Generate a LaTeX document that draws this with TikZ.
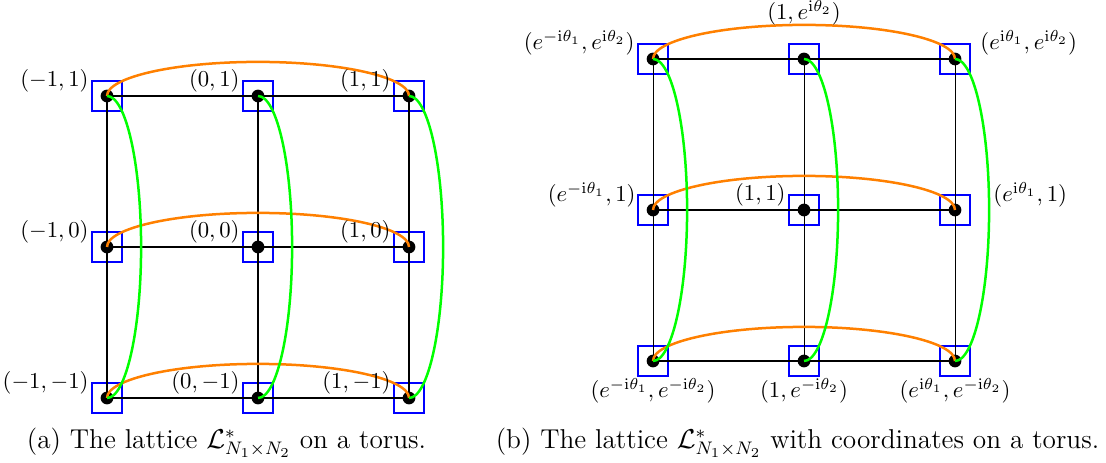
\documentclass[tikz,border=0pt]{standalone}
\usepackage{amsmath}
\begin{document}
\begin{tikzpicture}[x=0.44pt,y=0.44pt,
  latpt/.style={draw=blue,line width=0.5pt,minimum size=13.2pt,inner sep=0pt,shape=rectangle},
  latdot/.style={fill=black,circle,inner sep=0pt,minimum size=5.6pt},
  gridline/.style={line width=0.45pt,black},
  orangearc/.style={orange,line width=1.1pt},
  greenarc/.style={green,line width=1.1pt},
  labtext/.style={inner sep=0pt,font=\normalsize},
  captext/.style={inner sep=0pt,font=\large}]
\useasboundingbox (0,0) rectangle (1106,462);
% left panel nodes
\foreach \i/\x in {1/107,2/258,3/409}
  \foreach \j/\y in {1/366,2/215,3/64}
    \node[latpt] (a\i\j) at (\x,\y) {};
% right panel nodes
\foreach \i/\x in {1/653,2/804,3/955}
  \foreach \j/\y in {1/403,2/252,3/101}
    \node[latpt] (b\i\j) at (\x,\y) {};
% grid lines
\foreach \p in {a,b}{
  \foreach \j in {1,2,3}{
    \draw[gridline] (\p1\j.center) -- (\p2\j.center) -- (\p3\j.center);
    \draw[gridline] (\p\j1.center) -- (\p\j2.center) -- (\p\j3.center);
  }
}
% dots
\foreach \p in {a,b}
  \foreach \i in {1,2,3}
    \foreach \j in {1,2,3}
      \node[latdot] (d\p\i\j) at (\p\i\j.center) {};
% orange arcs
\foreach \p in {a,b}
  \foreach \j in {1,2,3}
    \draw[orangearc] (\p1\j.center) arc[start angle=180,end angle=0,x radius=66.44pt,y radius=15pt];
% green arcs
\foreach \p in {a,b}
  \foreach \i in {1,2,3}
    \draw[greenarc] (\p\i1.center) arc[start angle=90,end angle=-90,x radius=15pt,y radius=66.44pt];
% left labels
\node[labtext,anchor=base east] (la11) at ([shift={(-18,9)}]a11.center) {$(-1,1)$};
\node[labtext,anchor=base east] (la21) at ([shift={(-18,9)}]a21.center) {$(0,1)$};
\node[labtext,anchor=base east] (la31) at ([shift={(-18,9)}]a31.center) {$(1,1)$};
\node[labtext,anchor=base east] (la12) at ([shift={(-18,9)}]a12.center) {$(-1,0)$};
\node[labtext,anchor=base east] (la22) at ([shift={(-18,9)}]a22.center) {$(0,0)$};
\node[labtext,anchor=base east] (la32) at ([shift={(-18,9)}]a32.center) {$(1,0)$};
\node[labtext,anchor=base east] (la13) at ([shift={(-18,9)}]a13.center) {$(-1,-1)$};
\node[labtext,anchor=base east] (la23) at ([shift={(-18,9)}]a23.center) {$(0,-1)$};
\node[labtext,anchor=base east] (la33) at ([shift={(-18,9)}]a33.center) {$(1,-1)$};
% right labels
\node[labtext,anchor=base east] (lb11) at ([shift={(-18,9)}]b11.center) {$(e^{-\mathrm{i}\theta_1},e^{\mathrm{i}\theta_2})$};
\node[labtext,anchor=base] (lb21) at ([shift={(0,39)}]b21.center) {$(1,e^{\mathrm{i}\theta_2})$};
\node[labtext,anchor=base west] (lb31) at ([shift={(25,9)}]b31.center) {$(e^{\mathrm{i}\theta_1},e^{\mathrm{i}\theta_2})$};
\node[labtext,anchor=base east] (lb12) at ([shift={(-17,8)}]b12.center) {$(e^{-\mathrm{i}\theta_1},1)$};
\node[labtext,anchor=base east] (lb22) at ([shift={(-18,9)}]b22.center) {$(1,1)$};
\node[labtext,anchor=base west] (lb32) at ([shift={(38,8)}]b32.center) {$(e^{\mathrm{i}\theta_1},1)$};
\node[labtext,anchor=base] (lb13) at ([shift={(0,-37)}]b13.center) {$(e^{-\mathrm{i}\theta_1},e^{-\mathrm{i}\theta_2})$};
\node[labtext,anchor=base] (lb23) at ([shift={(0,-37)}]b23.center) {$(1,e^{-\mathrm{i}\theta_2})$};
\node[labtext,anchor=base] (lb33) at ([shift={(0,-37)}]b33.center) {$(e^{\mathrm{i}\theta_1},e^{-\mathrm{i}\theta_2})$};
% captions
\node[captext,anchor=base] (capa) at (226.5,14) {(a) The lattice $\mathcal{L}^*_{N_1\times N_2}$ on a torus.};
\node[captext,anchor=base] (capb) at (797.5,14) {(b) The lattice $\mathcal{L}^*_{N_1\times N_2}$ with coordinates on a torus.};
\end{tikzpicture}
\end{document}
